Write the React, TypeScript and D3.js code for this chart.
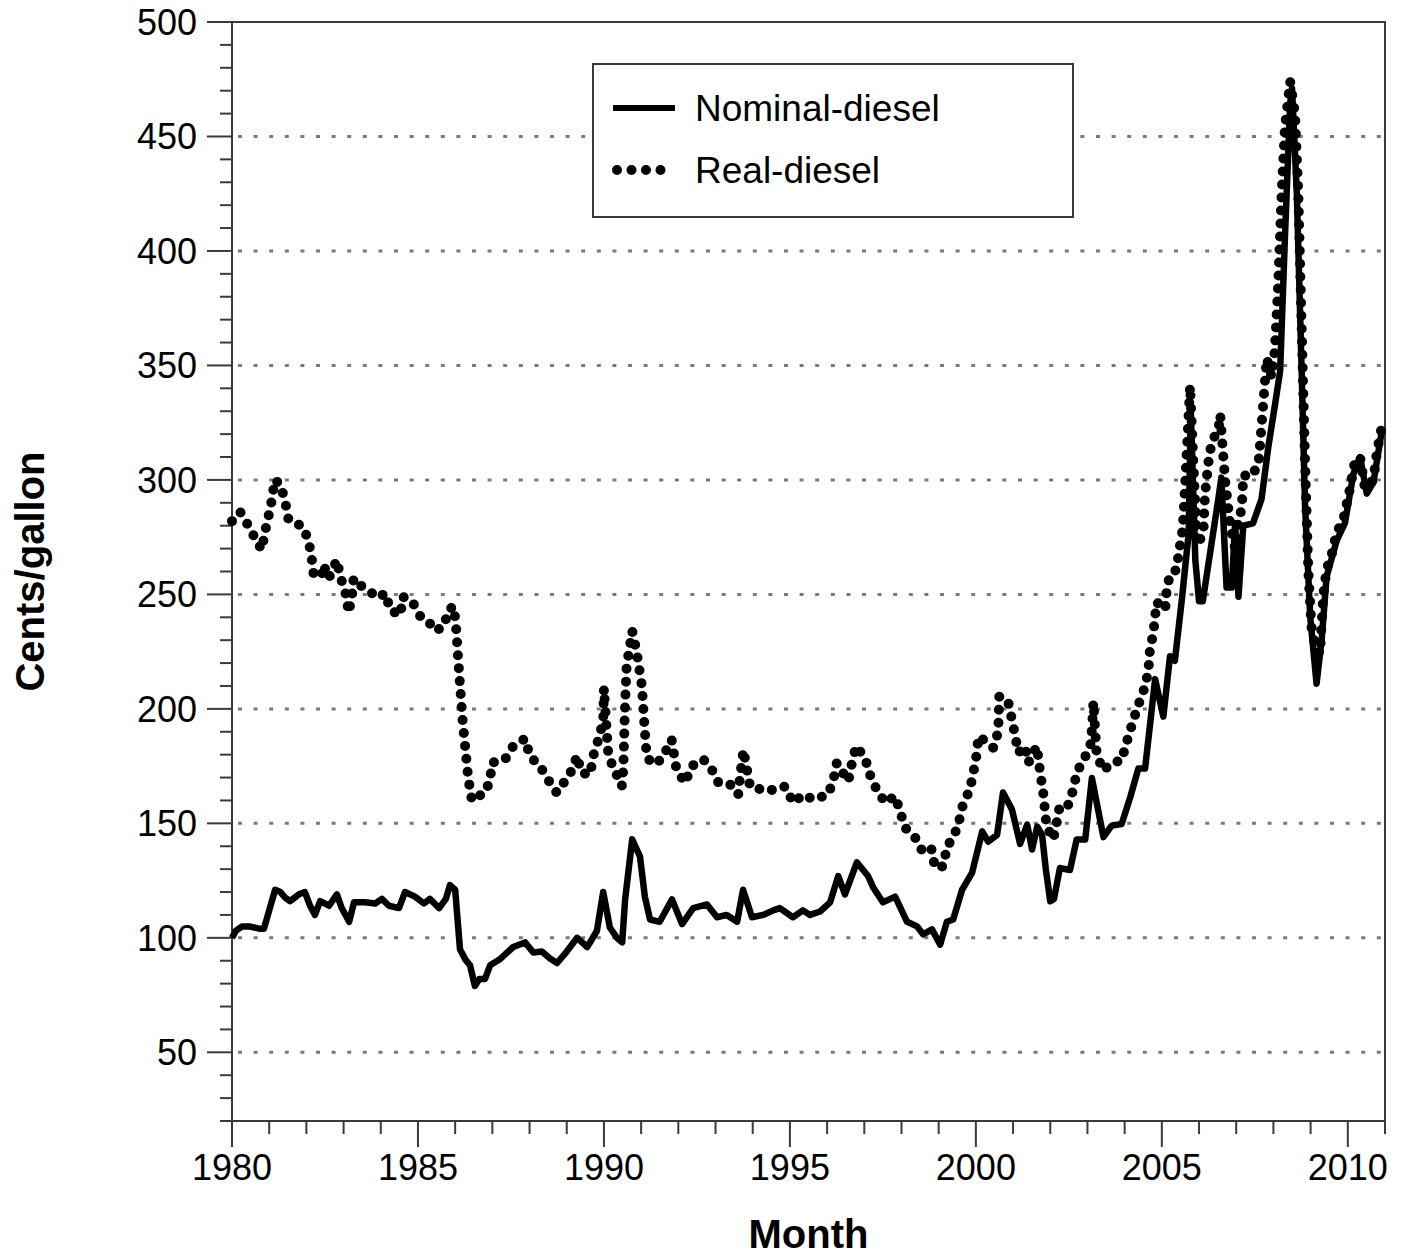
import React, { useEffect, useRef } from 'react';
import * as d3 from 'd3';

// [decimal year, cents/gallon]
const nominalDiesel: [number, number][] = [
  [1980.0, 100], [1980.1, 103], [1980.27, 105], [1980.46, 105], [1980.73, 104], [1980.86, 104],
  [1981.0, 112], [1981.16, 121], [1981.3, 120], [1981.43, 117.6], [1981.56, 116], [1981.8, 119],
  [1981.96, 120], [1982.1, 114], [1982.23, 110], [1982.37, 116], [1982.5, 115], [1982.61, 114],
  [1982.82, 119], [1982.95, 113], [1983.15, 107], [1983.28, 115.5], [1983.58, 115.5], [1983.85, 115],
  [1984.03, 117], [1984.22, 114], [1984.49, 113], [1984.65, 120], [1984.92, 118], [1985.16, 115],
  [1985.32, 117], [1985.57, 113], [1985.75, 117], [1985.86, 123], [1986.0, 121], [1986.13, 95],
  [1986.27, 90.6], [1986.4, 88], [1986.53, 79], [1986.65, 82], [1986.8, 82], [1986.94, 88],
  [1987.2, 90.6], [1987.56, 96], [1987.88, 98], [1988.1, 93.6], [1988.33, 94], [1988.55, 91],
  [1988.74, 89], [1989.0, 94], [1989.28, 100], [1989.55, 96], [1989.81, 103], [1989.98, 120],
  [1990.16, 104.5], [1990.35, 100], [1990.49, 98], [1990.57, 116.8], [1990.76, 143], [1990.97, 135.5],
  [1991.1, 118], [1991.24, 108], [1991.5, 107], [1991.83, 116.8], [1992.1, 106], [1992.4, 113],
  [1992.77, 114.6], [1993.04, 109], [1993.3, 110], [1993.58, 107], [1993.74, 121], [1993.98, 109],
  [1994.28, 110], [1994.55, 112], [1994.73, 113], [1995.08, 109], [1995.35, 112], [1995.54, 110],
  [1995.81, 111.5], [1996.08, 115.5], [1996.3, 127], [1996.48, 119], [1996.8, 133], [1997.1, 127],
  [1997.24, 122], [1997.5, 115.5], [1997.83, 118], [1998.15, 107], [1998.42, 105], [1998.58, 101.5],
  [1998.82, 103.7], [1999.04, 97], [1999.22, 107], [1999.39, 108], [1999.63, 121], [1999.9, 128.5],
  [2000.17, 146.5], [2000.33, 142], [2000.57, 145], [2000.73, 163.5], [2000.97, 156], [2001.19, 141],
  [2001.38, 149.5], [2001.51, 138.6], [2001.65, 148.6], [2001.78, 145], [2001.88, 130], [2002.0, 116],
  [2002.1, 117], [2002.26, 130.5], [2002.53, 129.6], [2002.71, 143], [2002.94, 143], [2003.12, 169.8],
  [2003.43, 144], [2003.65, 149], [2003.92, 149.7], [2004.15, 161.4], [2004.37, 174], [2004.55, 174],
  [2004.82, 213], [2005.04, 196.6], [2005.22, 223], [2005.35, 221], [2005.54, 248], [2005.72, 276.5],
  [2005.78, 330], [2005.9, 265], [2006.0, 247], [2006.1, 247], [2006.25, 263], [2006.52, 291.8],
  [2006.6, 301], [2006.74, 253], [2006.88, 253], [2006.97, 281], [2007.06, 249], [2007.19, 280],
  [2007.45, 281], [2007.68, 291.6], [2007.86, 314], [2008.04, 332.6], [2008.18, 347.5], [2008.31, 406],
  [2008.45, 464.6], [2008.5, 471], [2008.63, 425], [2008.76, 347], [2008.85, 289], [2008.99, 240],
  [2009.16, 211], [2009.3, 230.7], [2009.43, 257.8], [2009.7, 273.5], [2009.92, 281], [2010.15, 302.6],
  [2010.33, 310], [2010.51, 294], [2010.69, 299], [2010.92, 322],
];

const realDiesel: [number, number][] = [
  [1980.0, 282], [1980.22, 286], [1980.45, 279.7], [1980.67, 273], [1980.8, 269.5], [1980.89, 277.5],
  [1980.99, 284.8], [1981.08, 292], [1981.15, 300], [1981.3, 298], [1981.43, 290.6], [1981.52, 282.6],
  [1981.66, 282], [1981.93, 279], [1982.07, 272.5], [1982.15, 265], [1982.2, 258], [1982.42, 258.6],
  [1982.46, 263], [1982.6, 257], [1982.82, 265], [1982.91, 258], [1983.05, 250.6], [1983.14, 242],
  [1983.23, 250], [1983.27, 257], [1983.45, 254], [1983.72, 251], [1983.94, 248.5], [1984.12, 250.6],
  [1984.26, 243], [1984.53, 241], [1984.59, 249], [1984.84, 247], [1985.06, 240.5], [1985.24, 239],
  [1985.47, 234], [1985.69, 236], [1985.83, 243.4], [1985.96, 244.8], [1986.02, 236.8], [1986.05, 229.5],
  [1986.08, 222], [1986.2, 195], [1986.35, 170], [1986.45, 160], [1986.6, 162], [1986.76, 162.6],
  [1986.94, 168.4], [1986.98, 176.4], [1987.34, 177.9], [1987.56, 183.7], [1987.88, 187], [1988.01, 179.3],
  [1988.28, 175], [1988.46, 170], [1988.73, 163.4], [1988.95, 168.4], [1989.18, 174.3], [1989.27, 179.6],
  [1989.4, 172], [1989.63, 171.3], [1989.71, 179.3], [1989.85, 186.6], [1989.98, 194.6], [1990.0, 209],
  [1990.12, 179.3], [1990.3, 172.8], [1990.48, 166.2], [1990.52, 173.5], [1990.57, 202.6], [1990.61, 218.6],
  [1990.76, 234], [1990.88, 225], [1991.02, 210], [1991.08, 195], [1991.15, 179], [1991.33, 175.7],
  [1991.55, 178], [1991.82, 186.6], [1991.95, 173.5], [1992.18, 167.7], [1992.36, 175], [1992.67, 178],
  [1992.9, 173.5], [1993.08, 167.7], [1993.39, 167], [1993.61, 162.6], [1993.66, 170.6], [1993.75, 182],
  [1993.93, 166], [1994.42, 164], [1994.73, 166], [1994.87, 166], [1995.09, 159], [1995.36, 162.6],
  [1995.63, 160.4], [1996.03, 162.6], [1996.17, 169], [1996.26, 176.4], [1996.57, 168.4], [1996.66, 175.7],
  [1996.78, 183.7], [1997.02, 178.6], [1997.15, 171.3], [1997.33, 164.8], [1997.56, 159], [1997.83, 161.9],
  [1997.96, 155.3], [1998.1, 148], [1998.37, 143.7], [1998.59, 137], [1998.81, 138.6], [1998.9, 130.6],
  [1999.13, 131.3], [1999.22, 140], [1999.4, 143.7], [1999.55, 151], [1999.65, 158], [1999.84, 164.8],
  [1999.93, 172], [2000.02, 180], [2000.07, 188], [2000.25, 186], [2000.47, 183], [2000.6, 190],
  [2000.63, 205.5], [2000.87, 203], [2000.96, 196], [2001.05, 188.8], [2001.14, 180.8], [2001.32, 183.7],
  [2001.41, 176.4], [2001.64, 183.7], [2001.73, 172], [2001.81, 163.4], [2001.9, 148.8], [2002.08, 143],
  [2002.17, 150], [2002.26, 158], [2002.48, 158], [2002.62, 164.8], [2002.71, 172], [2002.85, 176.5],
  [2003.07, 183], [2003.12, 191], [2003.16, 203], [2003.25, 179.8], [2003.43, 173], [2003.65, 176.5],
  [2003.92, 177.4], [2004.01, 183], [2004.15, 190.6], [2004.28, 197.3], [2004.42, 204], [2004.55, 209.8],
  [2004.64, 217], [2004.68, 226], [2004.77, 233], [2004.86, 246.6], [2005.09, 243.4], [2005.13, 251.6],
  [2005.22, 259], [2005.4, 260.8], [2005.45, 268], [2005.54, 276], [2005.58, 283.5], [2005.76, 341],
  [2005.85, 306.6], [2005.94, 273.5], [2005.98, 271.7], [2006.12, 278], [2006.16, 293.4], [2006.25, 307.5],
  [2006.34, 316.6], [2006.52, 322], [2006.57, 328.5], [2006.7, 300], [2006.84, 280], [2006.97, 270],
  [2007.01, 278], [2007.15, 288], [2007.19, 302], [2007.41, 301.5], [2007.6, 307], [2007.68, 323.5],
  [2007.82, 353], [2007.95, 345], [2008.04, 357], [2008.13, 386], [2008.22, 425], [2008.31, 454],
  [2008.45, 474], [2008.58, 460], [2008.67, 425], [2008.76, 366.6], [2008.85, 308], [2008.94, 259.6],
  [2009.03, 234], [2009.12, 228], [2009.25, 224], [2009.34, 249.6], [2009.43, 261], [2009.56, 267],
  [2009.7, 277], [2009.88, 282.7], [2010.06, 296.4], [2010.19, 308], [2010.33, 310], [2010.46, 296.4],
  [2010.69, 300], [2010.78, 312], [2010.91, 323],
];

const yearTicks = [1980, 1985, 1990, 1995, 2000, 2005, 2010];
const valueTicks = [50, 100, 150, 200, 250, 300, 350, 400, 450, 500];
const gridValues = [50, 100, 150, 200, 250, 300, 350, 400, 450];
const legendLabels = ['Nominal-diesel', 'Real-diesel'];

const App = () => {
  const chartRef = useRef(null);

  useEffect(() => {
    const width = 1408;
    const height = 1257;
    const margin = { top: 22, right: 23, bottom: 136, left: 232 };
    const font = '"Liberation Sans", Arial, Helvetica, sans-serif';
    const axisColor = '#3a3a3a';

    const x = d3.scaleLinear().domain([1980, 2011]).range([margin.left, width - margin.right]);
    const y = d3.scaleLinear().domain([20, 500]).range([height - margin.bottom, margin.top]);

    d3.select(chartRef.current).selectAll('*').remove();
    const svg = d3.select(chartRef.current)
      .append('svg')
      .attr('width', width)
      .attr('height', height)
      .style('position', 'absolute')
      .style('left', '0px')
      .style('top', '0px')
      .style('background', '#fff');

    const x0 = x(1980), x1 = x(2011), yb = y(20), yt = y(500);

    // grid
    svg.append('g').selectAll('line')
      .data(gridValues)
      .enter().append('line')
      .attr('x1', x0 + 6).attr('x2', x1)
      .attr('y1', d => y(d)).attr('y2', d => y(d))
      .attr('stroke', '#7a7a7a')
      .attr('stroke-width', 3)
      .attr('stroke-dasharray', '4 11.6');

    // y ticks
    const minorY = d3.range(20, 501, 10).filter(v => v % 50 !== 0);
    svg.append('g').selectAll('line')
      .data(minorY).enter().append('line')
      .attr('x1', x0 - 12).attr('x2', x0)
      .attr('y1', d => y(d)).attr('y2', d => y(d))
      .attr('stroke', axisColor).attr('stroke-width', 2);
    svg.append('g').selectAll('line')
      .data(valueTicks).enter().append('line')
      .attr('x1', x0 - 25).attr('x2', x0)
      .attr('y1', d => y(d)).attr('y2', d => y(d))
      .attr('stroke', axisColor).attr('stroke-width', 2);
    svg.append('g').selectAll('text')
      .data(valueTicks).enter().append('text')
      .attr('x', x0 - 35).attr('y', d => y(d))
      .attr('dy', '0.36em')
      .attr('text-anchor', 'end')
      .style('font-family', font).style('font-size', '36px')
      .text(d => d);

    // x ticks
    const minorX = d3.range(1980, 2012, 1).filter(v => v % 5 !== 0);
    svg.append('g').selectAll('line')
      .data(minorX).enter().append('line')
      .attr('x1', d => x(d)).attr('x2', d => x(d))
      .attr('y1', yb).attr('y2', yb + 13)
      .attr('stroke', axisColor).attr('stroke-width', 2);
    svg.append('g').selectAll('line')
      .data(yearTicks).enter().append('line')
      .attr('x1', d => x(d)).attr('x2', d => x(d))
      .attr('y1', yb).attr('y2', yb + 26)
      .attr('stroke', axisColor).attr('stroke-width', 2);
    svg.append('g').selectAll('text')
      .data(yearTicks).enter().append('text')
      .attr('x', d => x(d)).attr('y', yb + 59)
      .attr('text-anchor', 'middle')
      .style('font-family', font).style('font-size', '36px')
      .text(d => d);

    // frame
    svg.append('path')
      .attr('d', `M${x0},${yt}V${yb}H${x1}V${yt}H${x0 - 25}`)
      .attr('fill', 'none')
      .attr('stroke', axisColor)
      .attr('stroke-width', 2);
    svg.append('line')
      .attr('x1', x0 - 12).attr('x2', x0)
      .attr('y1', yb).attr('y2', yb)
      .attr('stroke', axisColor).attr('stroke-width', 2);

    const line = d3.line<[number, number]>()
      .x(d => x(d[0]))
      .y(d => y(d[1]));

    svg.append('path')
      .datum(realDiesel)
      .attr('d', line)
      .attr('fill', 'none')
      .attr('stroke', '#000')
      .attr('stroke-width', 10)
      .attr('stroke-linecap', 'round')
      .attr('stroke-dasharray', '0 13');

    svg.append('path')
      .datum(nominalDiesel)
      .attr('d', line)
      .attr('fill', 'none')
      .attr('stroke', '#000')
      .attr('stroke-width', 6.5)
      .attr('stroke-linejoin', 'round');

    // legend
    const lg = svg.append('g');
    lg.append('rect')
      .attr('x', 593).attr('y', 64).attr('width', 480).attr('height', 153)
      .attr('fill', '#fff').attr('stroke', axisColor).attr('stroke-width', 2);
    lg.append('line')
      .attr('x1', 613).attr('x2', 675).attr('y1', 108).attr('y2', 108)
      .attr('stroke', '#000').attr('stroke-width', 6);
    lg.append('line')
      .attr('x1', 617).attr('x2', 675).attr('y1', 170).attr('y2', 170)
      .attr('stroke', '#000').attr('stroke-width', 10)
      .attr('stroke-linecap', 'round').attr('stroke-dasharray', '0 14.5');
    lg.selectAll('text')
      .data(legendLabels).enter().append('text')
      .attr('x', 695).attr('y', (d, i) => 108 + i * 62)
      .attr('dy', '0.36em')
      .style('font-family', font).style('font-size', '37px')
      .text(d => d);

    // axis titles
    svg.append('text')
      .attr('x', (x0 + x1) / 2).attr('y', 1248)
      .attr('text-anchor', 'middle')
      .style('font-family', font).style('font-size', '40px').style('font-weight', 'bold')
      .text('Month');
    svg.append('text')
      .attr('transform', `translate(44,${(yt + yb) / 2}) rotate(-90)`)
      .attr('text-anchor', 'middle')
      .style('font-family', font).style('font-size', '40px').style('font-weight', 'bold')
      .text('Cents/gallon');
  }, []);

  return (
    <div ref={chartRef}></div>
  );
};

export default App;
